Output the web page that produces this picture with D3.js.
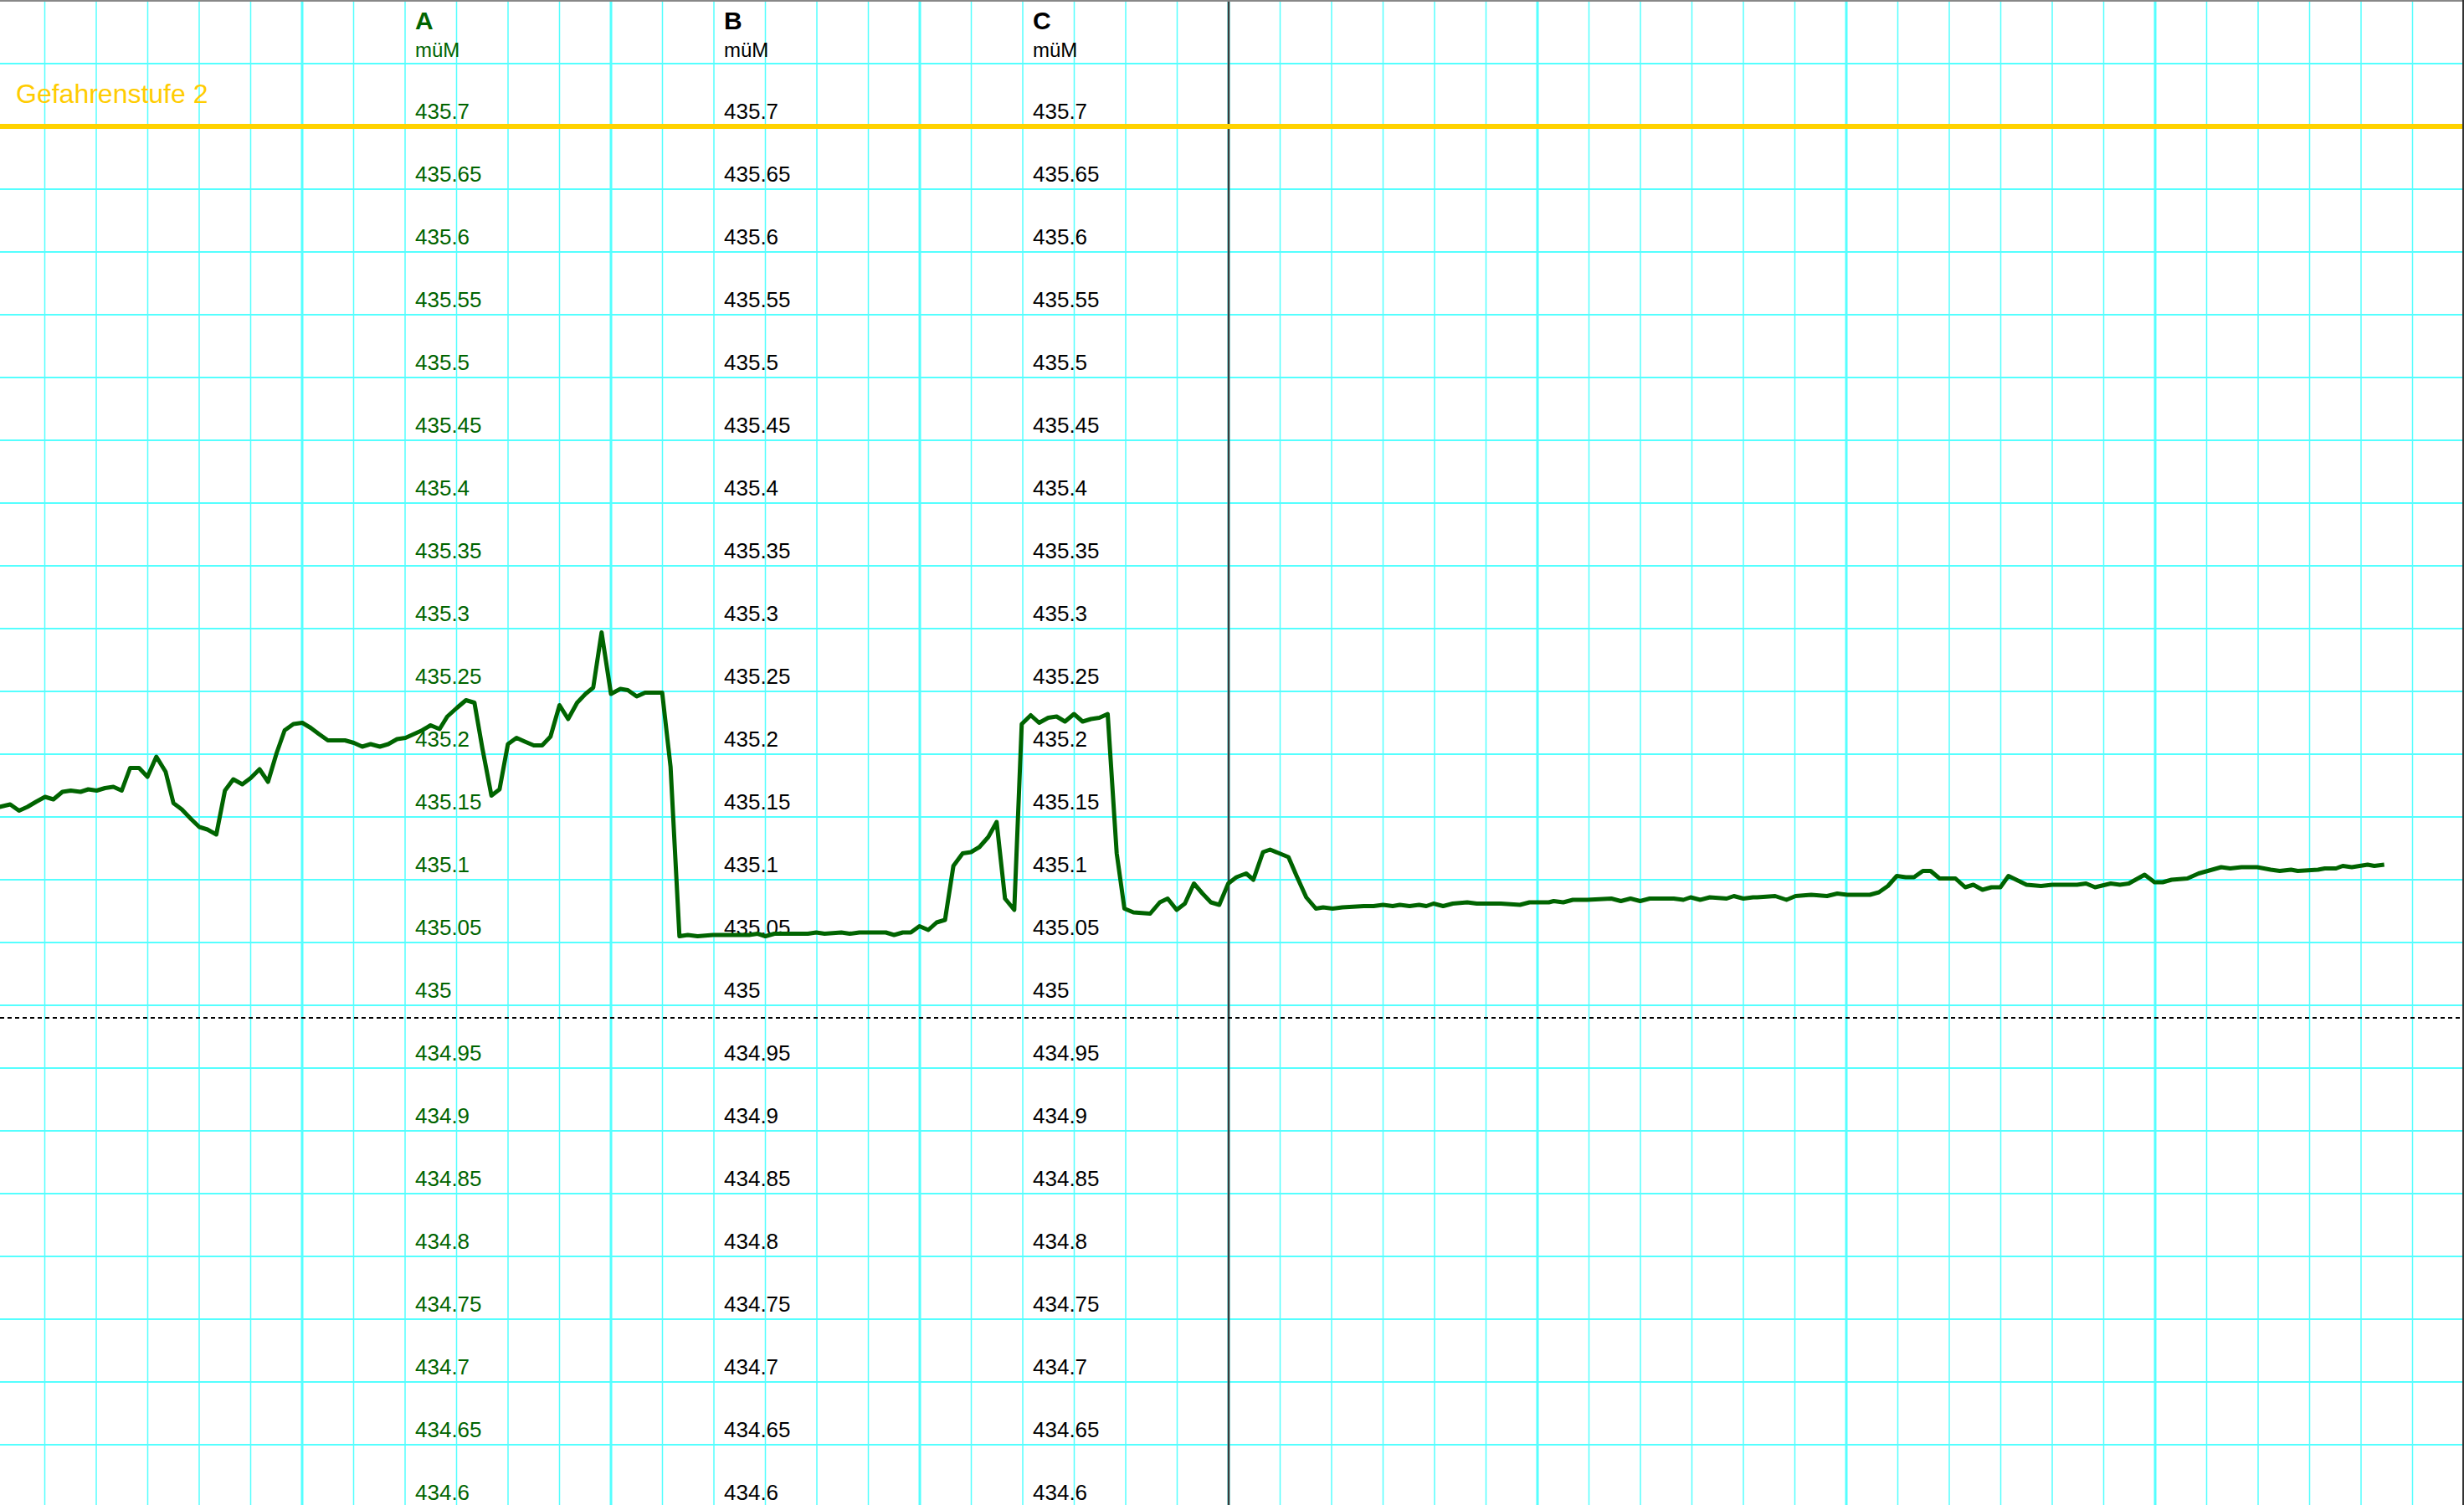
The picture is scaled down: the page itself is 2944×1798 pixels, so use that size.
<!DOCTYPE html>
<html lang="de">

<head>
    <meta charset="UTF-8">
    <title>Pegel</title>
    <script src="https://d3js.org/d3.v7.min.js"></script>
</head>
<style>
    body {
        margin: 0;
        background: #fff;
    }

    svg text {
        font-family: "Liberation Sans", Arial, sans-serif;
    }
</style>

<body>
    <div id="chart"></div>
    <script>
        // measurement times (hours from chart start) and water levels (müM)
        const hours = [
            0.49, 1.31, 2.0, 2.65, 3.31, 4.02, 4.67, 5.37, 6.02, 6.78, 7.38, 8.03, 8.68, 9.33, 9.98, 10.63,
            11.33, 11.98, 12.67, 13.39, 14.0, 14.65, 15.4, 16.01, 16.64, 17.33, 18.0, 18.65, 19.35, 20.0,
            20.69, 21.35, 22.02, 22.64, 23.32, 24.01, 24.66, 25.31, 26.0, 26.65, 27.33, 28.02, 28.67, 29.32,
            30.04, 30.69, 31.38, 32.03, 32.68, 33.33, 33.98, 34.68, 35.28, 36.04, 36.73, 37.39, 38.0, 38.71,
            39.34, 39.99, 40.66, 41.31, 42.0, 42.65, 43.3, 44.0, 44.67, 45.37, 46.02, 46.62, 47.27, 48.0,
            48.73, 49.31, 50.0, 50.65, 51.33, 51.98, 52.63, 53.32, 53.97, 54.73, 55.92, 58.74, 59.4, 60.0,
            60.7, 63.3, 63.95, 64.6, 65.9, 66.55, 67.3, 69.36, 70.0, 70.67, 71.3, 71.97, 72.66, 73.31, 73.96,
            74.61, 75.33, 75.98, 76.63, 77.32, 77.97, 78.62, 79.34, 79.92, 80.62, 81.27, 81.98, 82.63, 83.28,
            83.98, 84.65, 85.3, 85.95, 86.6, 87.3, 87.9, 88.6, 89.9, 90.65, 91.26, 91.96, 92.6, 93.3, 93.97,
            94.62, 95.27, 95.97, 96.6, 97.36, 97.92, 98.67, 99.22, 100.65, 101.28, 102.03, 102.78, 103.34,
            104.08, 104.83, 106.5, 107.26, 108.0, 108.75, 109.3, 110.06, 110.8, 111.36, 111.92, 112.67,
            113.42, 114.54, 115.28, 117.15, 118.64, 119.38, 120.88, 121.26, 122.0, 122.75, 123.87, 125.74,
            126.48, 127.23, 127.98, 128.72, 130.59, 131.34, 131.9, 132.64, 133.39, 134.7, 135.26, 136.0,
            136.75, 137.07, 138.47, 139.35, 140.05, 141.27, 142.5, 143.3, 144.07, 145.83, 146.53, 147.23,
            147.92, 148.62, 149.26, 149.95, 150.55, 151.25, 152.48, 153.24, 153.87, 154.58, 155.28, 155.97,
            156.6, 157.2, 158.0, 159.13, 160.0, 161.93, 162.63, 163.33, 164.55, 165.26, 165.95, 167.18,
            167.95, 168.58, 169.28, 170.5, 171.38, 173.13, 173.83, 174.71, 175.93, 176.98, 177.68, 178.56,
            179.08, 180.66, 181.18, 182.06, 182.58, 183.28, 184.51, 185.03, 185.8
        ];
        const levels = [
            435.158, 435.160, 435.155, 435.158, 435.162, 435.166, 435.164, 435.170, 435.171, 435.170, 435.172,
            435.171, 435.173, 435.174, 435.171, 435.189, 435.189, 435.182, 435.198, 435.186, 435.161, 435.156,
            435.148, 435.142, 435.140, 435.136, 435.171, 435.180, 435.176, 435.181, 435.188, 435.178, 435.201,
            435.219, 435.224, 435.225, 435.221, 435.216, 435.211, 435.211, 435.211, 435.209, 435.206, 435.208,
            435.206, 435.208, 435.212, 435.213, 435.216, 435.219, 435.223, 435.220, 435.230, 435.237, 435.243,
            435.241, 435.205, 435.167, 435.172, 435.208, 435.213, 435.210, 435.207, 435.207, 435.214, 435.239,
            435.228, 435.241, 435.248, 435.253, 435.297, 435.248, 435.252, 435.251, 435.246, 435.249, 435.249,
            435.249, 435.190, 435.055, 435.056, 435.055, 435.056, 435.056, 435.057, 435.055, 435.057, 435.057,
            435.058, 435.057, 435.058, 435.057, 435.058, 435.058, 435.056, 435.058, 435.058, 435.063, 435.060,
            435.066, 435.068, 435.111, 435.121, 435.122, 435.126, 435.134, 435.146, 435.085, 435.076, 435.224,
            435.231, 435.225, 435.229, 435.230, 435.226, 435.232, 435.226, 435.228, 435.229, 435.232, 435.121,
            435.077, 435.074, 435.073, 435.082, 435.085, 435.076, 435.081, 435.097, 435.089, 435.082, 435.080,
            435.097, 435.102, 435.105, 435.100, 435.122, 435.124, 435.118, 435.103, 435.086, 435.077, 435.078,
            435.077, 435.078, 435.079, 435.079, 435.080, 435.079, 435.080, 435.079, 435.080, 435.079, 435.081,
            435.079, 435.081, 435.082, 435.081, 435.081, 435.080, 435.082, 435.082, 435.083, 435.082, 435.084,
            435.084, 435.085, 435.083, 435.085, 435.083, 435.085, 435.085, 435.084, 435.086, 435.084, 435.086,
            435.085, 435.087, 435.085, 435.086, 435.086, 435.087, 435.084, 435.087, 435.088, 435.087, 435.089,
            435.088, 435.088, 435.090, 435.095, 435.103, 435.102, 435.102, 435.107, 435.107, 435.101, 435.101,
            435.094, 435.096, 435.092, 435.094, 435.094, 435.103, 435.100, 435.096, 435.095, 435.096, 435.096,
            435.097, 435.094, 435.097, 435.096, 435.097, 435.104, 435.098, 435.098, 435.100, 435.101, 435.105,
            435.110, 435.109, 435.110, 435.110, 435.108, 435.107, 435.108, 435.107, 435.108, 435.109, 435.109,
            435.111, 435.110, 435.112, 435.111, 435.112
        ];

        // axis labels and ticks
        const axisNames = ["A", "B", "C"];
        const axisHours = [32, 56, 80];
        const axisColors = ["#006400", "#000", "#000"];
        const axisUnit = "müM";
        const tickLevels = [434.6, 434.65, 434.7, 434.75, 434.8, 434.85, 434.9, 434.95, 435, 435.05, 435.1,
            435.15, 435.2, 435.25, 435.3, 435.35, 435.4, 435.45, 435.5, 435.55, 435.6, 435.65, 435.7];

        // threshold / markers
        const dangerLevel = 435.7;
        const dangerLabel = "Gefahrenstufe 2";
        const refLevel = 434.99;
        const markerHour = 96;

        const width = 2944, height = 1798;

        const svg = d3.select("#chart")
            .append("svg")
            .attr("width", width)
            .attr("height", height);

        svg.append("rect")
            .attr("width", width)
            .attr("height", height)
            .attr("fill", "#fff");

        const x = d3.scaleLinear().domain([0, 192]).range([-8, 2944]);
        const y = d3.scaleLinear().domain([434.6, 435.8]).range([1801, 1]);

        // horizontal grid
        const gridLevels = d3.range(0, 25).map(i => 434.6 + i * 0.05);
        svg.append("g")
            .selectAll("line")
            .data(gridLevels)
            .enter()
            .append("line")
            .attr("x1", 0)
            .attr("x2", width)
            .attr("y1", d => y(d))
            .attr("y2", d => y(d))
            .attr("stroke", "#5ff")
            .attr("stroke-width", 2);

        // vertical grid, every 4h, thicker every 24h
        const gridHours = d3.range(0, 49).map(i => i * 4);
        svg.append("g")
            .selectAll("line")
            .data(gridHours)
            .enter()
            .append("line")
            .attr("x1", d => x(d))
            .attr("x2", d => x(d))
            .attr("y1", 0)
            .attr("y2", height)
            .attr("stroke", "#5ff")
            .attr("stroke-width", d => d % 24 === 0 ? 3 : 1.5);

        // marker line
        svg.append("line")
            .attr("x1", x(markerHour))
            .attr("x2", x(markerHour))
            .attr("y1", 0)
            .attr("y2", height)
            .attr("stroke", "#3a3a3a")
            .attr("stroke-width", 2.5);

        // dashed reference line
        svg.append("line")
            .attr("x1", 0)
            .attr("x2", width)
            .attr("y1", y(refLevel))
            .attr("y2", y(refLevel))
            .attr("stroke", "#000")
            .attr("stroke-width", 2)
            .attr("stroke-dasharray", "5,4");

        // axes
        axisNames.forEach(function (name, i) {
            const g = svg.append("g")
                .attr("transform", "translate(" + x(axisHours[i]) + ",0)")
                .call(d3.axisRight(y).tickValues(tickLevels).tickSize(0).tickPadding(12)
                    .tickFormat(d => String(+d.toFixed(2))));
            g.select(".domain").remove();
            g.selectAll("text")
                .attr("dy", -10)
                .attr("fill", axisColors[i])
                .style("font-size", "26px")
                .style("font-family", "'Liberation Sans', Arial, sans-serif");

            g.append("text")
                .attr("x", 12)
                .attr("y", 35)
                .attr("fill", axisColors[i])
                .style("font-size", "30px")
                .style("font-weight", "bold")
                .text(name);
            g.append("text")
                .attr("x", 12)
                .attr("y", 68)
                .attr("fill", axisColors[i])
                .style("font-size", "24px")
                .text(axisUnit);
        });

        // data line
        const points = hours.map((h, i) => [h, levels[i]]);
        svg.append("path")
            .datum(points)
            .attr("fill", "none")
            .attr("stroke", "#006400")
            .attr("stroke-width", 5)
            .attr("stroke-linejoin", "round")
            .attr("d", d3.line().x(d => x(d[0])).y(d => y(d[1])));

        // danger level
        svg.append("line")
            .attr("x1", 0)
            .attr("x2", width)
            .attr("y1", y(dangerLevel))
            .attr("y2", y(dangerLevel))
            .attr("stroke", "#ffd200")
            .attr("stroke-width", 6);

        svg.append("text")
            .attr("x", 19)
            .attr("y", y(dangerLevel) - 28)
            .attr("fill", "#ffcc00")
            .style("font-size", "32px")
            .text(dangerLabel);

        // frame
        svg.append("line")
            .attr("x1", 0).attr("x2", width).attr("y1", 1).attr("y2", 1)
            .attr("stroke", "#888").attr("stroke-width", 2);
        svg.append("line")
            .attr("x1", width - 1).attr("x2", width - 1).attr("y1", 0).attr("y2", height)
            .attr("stroke", "#333").attr("stroke-width", 2);
    </script>
</body>

</html>
